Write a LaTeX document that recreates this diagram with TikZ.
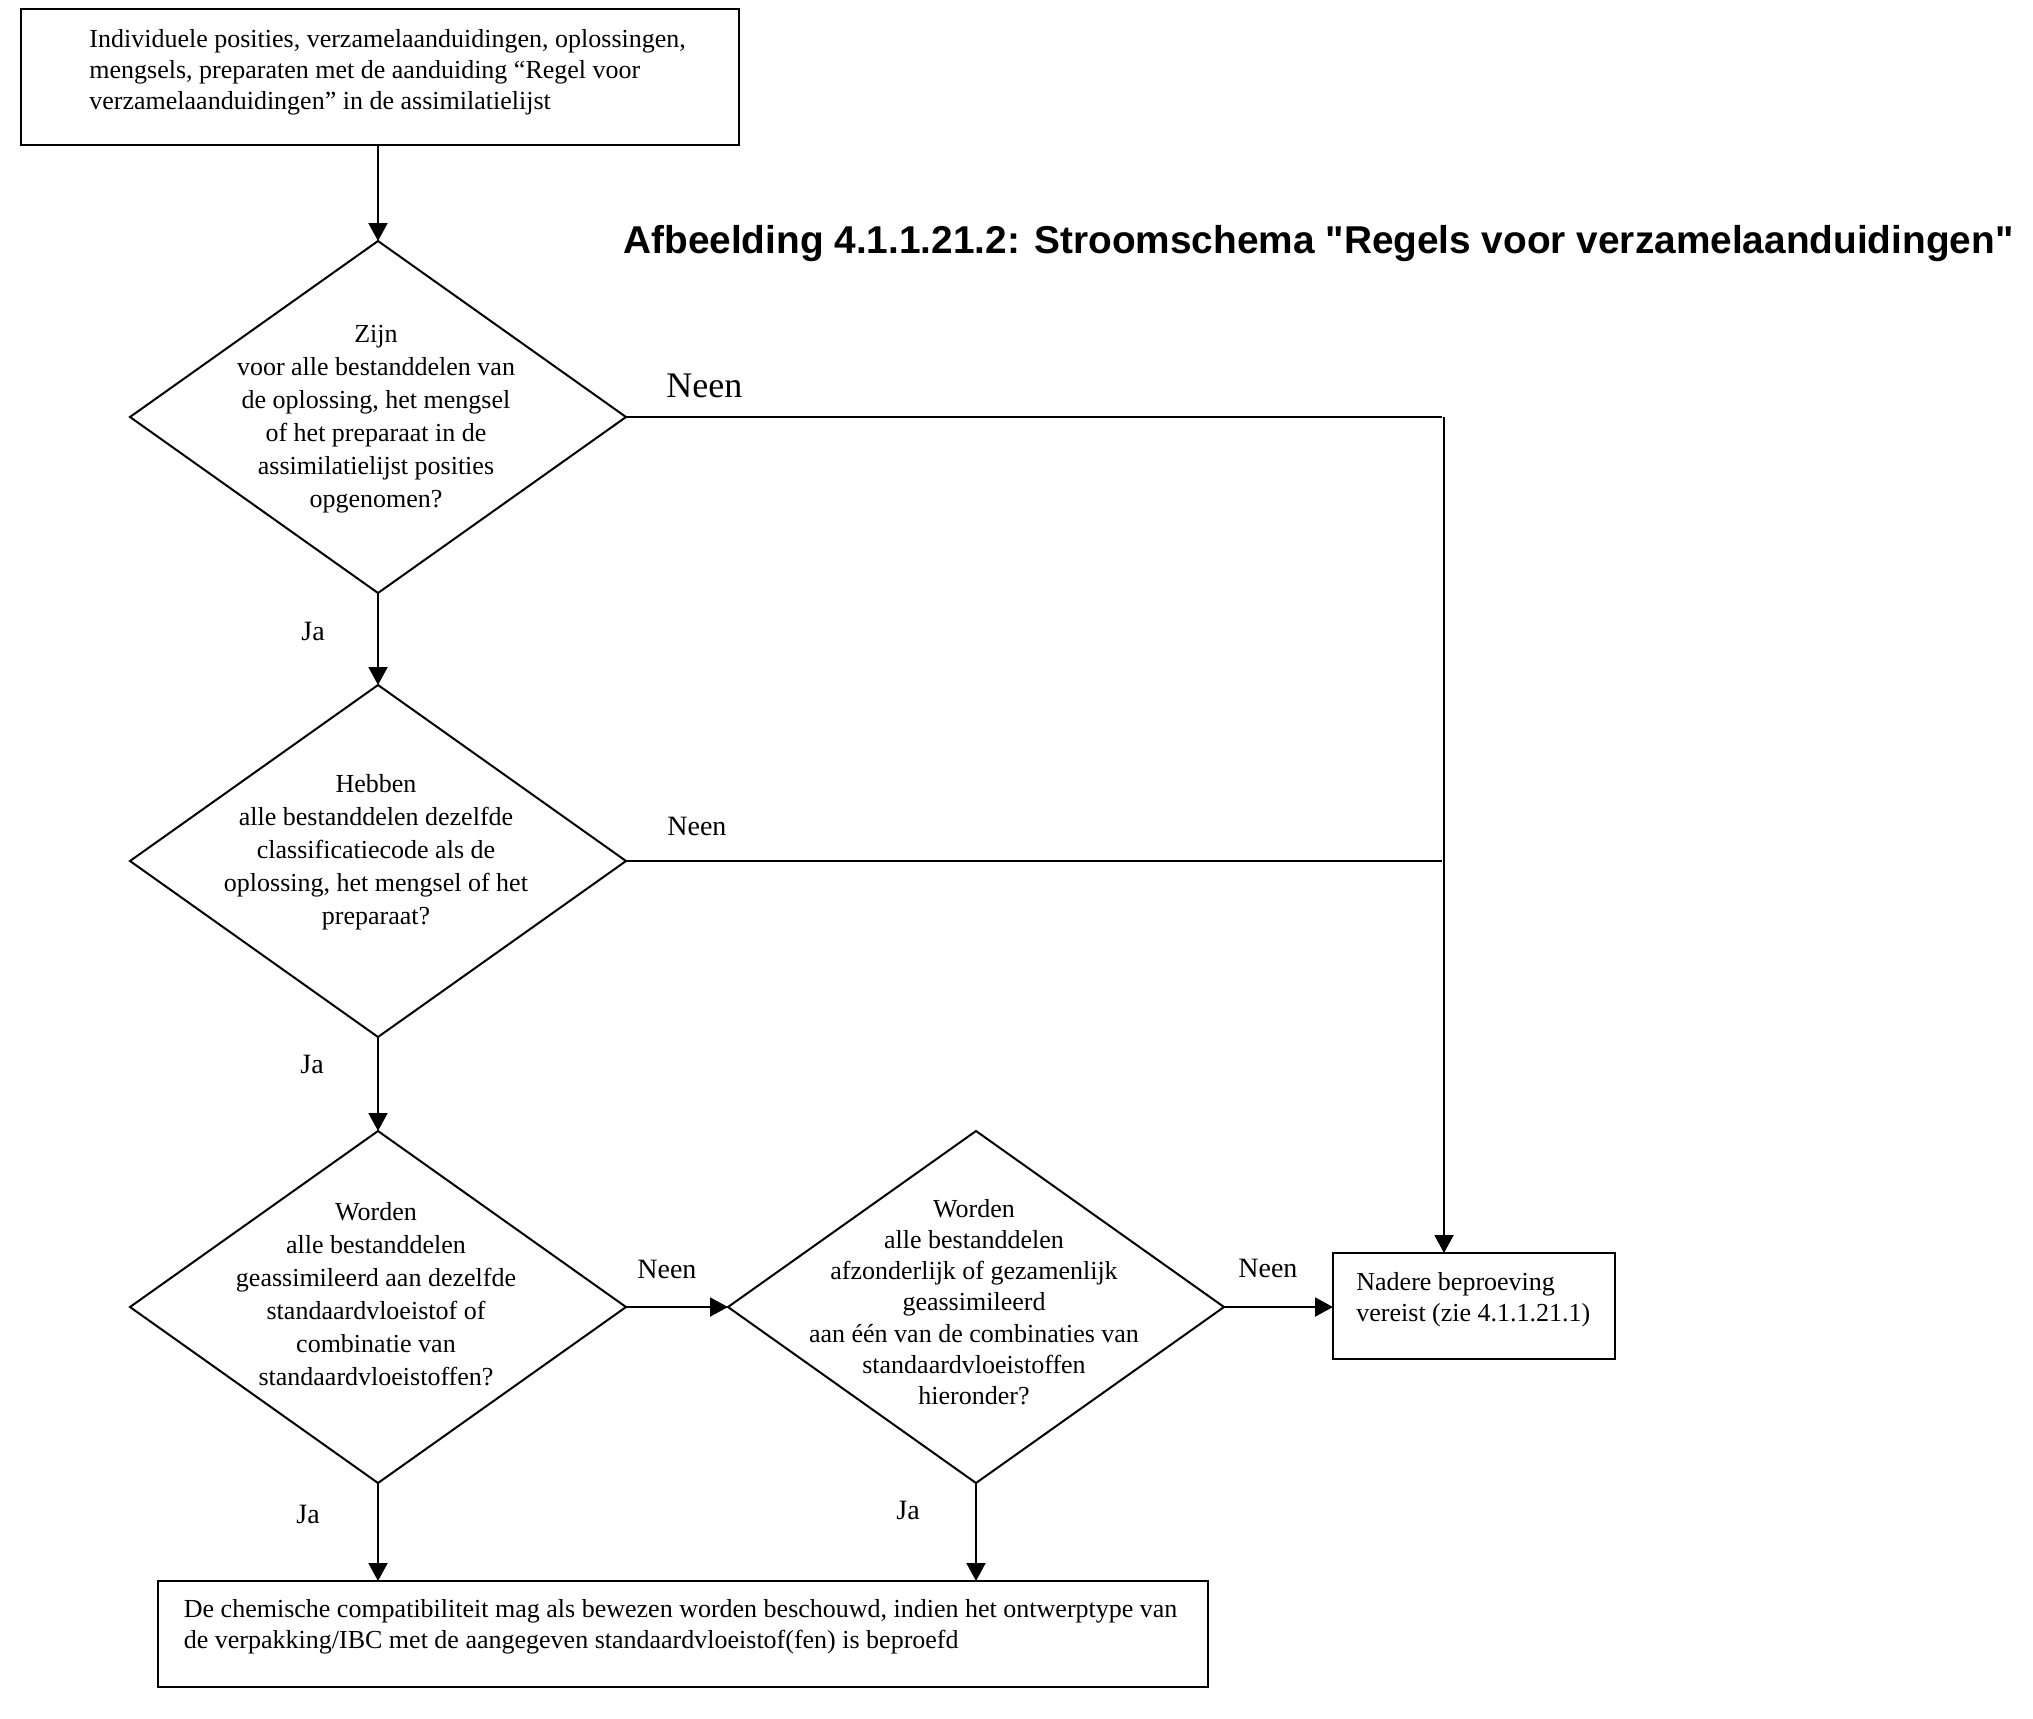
\documentclass[tikz,border=0pt]{standalone}
\usepackage{fontspec}
\setmainfont{Liberation Serif}
\newfontfamily\titlefont{Liberation Sans}
\usetikzlibrary{shapes.geometric,arrows.meta}
\begin{document}
\begin{tikzpicture}[x=0.5pt,y=-0.5pt,
  box/.style={draw,rectangle,line width=1pt,inner sep=0pt,outer sep=0pt},
  dia/.style={draw,diamond,line width=1pt,inner sep=0pt,outer sep=0pt,minimum width=248pt,minimum height=176pt},
  dtxt/.style={inner sep=0pt,align=center,font=\fontsize{13pt}{16.5pt}\selectfont},
  btxt/.style={inner sep=0pt,align=left,anchor=north west,font=\fontsize{13pt}{15.5pt}\selectfont},
  lbl/.style={inner sep=0pt,anchor=base west,font=\fontsize{14pt}{16pt}\selectfont},
  arr/.style={-{Triangle[length=9pt,width=9.5pt]},line width=1pt},
  conn/.style={line width=1pt}]
\useasboundingbox (0,0) rectangle (2033,1718);
% title
\node[inner sep=0pt,anchor=base west,font=\titlefont\bfseries\fontsize{19.4pt}{22pt}\selectfont] (title) at (623,253) {Afbeelding 4.1.1.21.2: Stroomschema "Regels voor verzamelaanduidingen"};
% start box
\node[box,minimum width=359pt,minimum height=68pt] (b0) at (380,77) {};
\node[btxt] (b0t) at (89,29) {Individuele posities, verzamelaanduidingen, oplossingen,\\mengsels, preparaten met de aanduiding “Regel voor\\verzamelaanduidingen” in de assimilatielijst};
% diamonds
\node[dia] (d1) at (378,417) {};
\node[dtxt] (d1t) at (376,419) {Zijn\\voor alle bestanddelen van\\de oplossing, het mengsel\\of het preparaat in de\\assimilatielijst posities\\opgenomen?};
\node[dia] (d2) at (378,861) {};
\node[dtxt] (d2t) at (376,852) {Hebben\\alle bestanddelen dezelfde\\classificatiecode als de\\oplossing, het mengsel of het\\preparaat?};
\node[dia] (d3) at (378,1307) {};
\node[dtxt] (d3t) at (376,1294) {Worden\\alle bestanddelen\\geassimileerd aan dezelfde\\standaardvloeistof of\\combinatie van\\standaardvloeistoffen?};
\node[dia] (d4) at (976,1307) {};
\node[dtxt,font=\fontsize{13pt}{15.6pt}\selectfont] (d4t) at (974,1302) {Worden\\alle bestanddelen\\afzonderlijk of gezamenlijk\\geassimileerd\\aan één van de combinaties van\\standaardvloeistoffen\\hieronder?};
% result boxes
\node[box,minimum width=141pt,minimum height=53pt] (nb) at (1474,1306) {};
\node[btxt] (nbt) at (1356,1272) {Nadere beproeving\\vereist (zie 4.1.1.21.1)};
\node[box,minimum width=525pt,minimum height=53pt] (bb) at (682.5,1634) {};
\node[btxt] (bbt) at (183.5,1599) {De chemische compatibiliteit mag als bewezen worden beschouwd, indien het ontwerptype van\\de verpakking/IBC met de aangegeven standaardvloeistof(fen) is beproefd};
% helper coordinates
\coordinate (c1) at (1442,417);
\coordinate (c2) at (1442,861);
\coordinate (c0) at (1444,417);
% connectors
\draw[arr] (b0.south -| d1.north) -- (d1.north);
\draw[arr] (d1.south) -- (d2.north);
\draw[arr] (d2.south) -- (d3.north);
\draw[arr] (d3.east) -- (d4.west);
\draw[arr] (d4.east) -- (d4.east -| nb.west);
\draw[arr] (d3.south) -- (d3.south |- bb.north);
\draw[arr] (d4.south) -- (d4.south |- bb.north);
\draw[conn] (d1.east) -- (c1);
\draw[conn] (d2.east) -- (c2);
\draw[arr] (c0) -- (c0 |- nb.north);
% labels
\node[lbl,font=\fontsize{18pt}{20pt}\selectfont] (n1) at (666,397) {Neen};
\node[lbl] (n2) at (667,835) {Neen};
\node[lbl] (n3) at (637,1278) {Neen};
\node[lbl] (n4) at (1238,1277) {Neen};
\node[lbl] (j1) at (301,640) {Ja};
\node[lbl] (j2) at (300,1073) {Ja};
\node[lbl] (j3) at (296,1523) {Ja};
\node[lbl] (j4) at (896,1519) {Ja};
\end{tikzpicture}
\end{document}
